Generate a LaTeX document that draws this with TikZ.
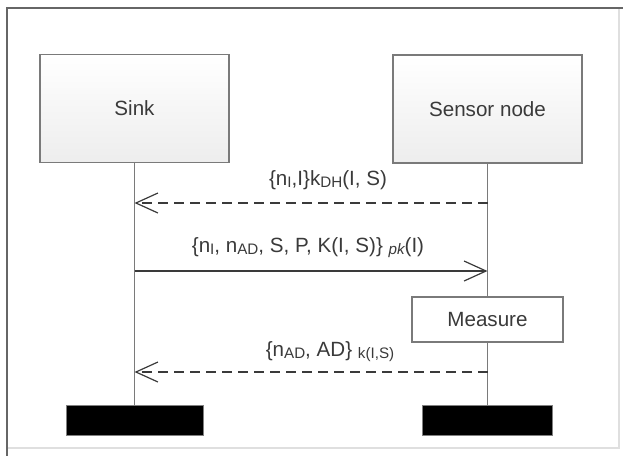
\documentclass[tikz,border=0pt]{standalone}
\usepackage{fontspec}
\setmainfont{Liberation Sans}
\usepackage{xcolor}
\usetikzlibrary{arrows.meta}

\definecolor{txtgray}{HTML}{3A3A3A}
\definecolor{linegray}{HTML}{7A7A7A}
\newcommand{\lowtxt}[1]{\raisebox{-0.2ex}{\fontsize{7.6}{9}\selectfont #1}}

\begin{document}
\begin{tikzpicture}[x=0.5pt,y=-0.5pt,
  font=\fontsize{10.3}{12}\selectfont,text=txtgray,
  actor/.style={draw=linegray,line width=0.6pt,top color=white,bottom color=gray!14,minimum width=94.5pt,minimum height=54pt},
  taskbox/.style={draw=linegray,line width=0.6pt,fill=white,minimum width=75.5pt,minimum height=22.5pt},
  endbar/.style={fill=black,draw=gray,line width=0.3pt,minimum height=15pt},
  lifeline/.style={linegray,line width=0.6pt},
  msg/.style={txtgray,line width=0.6pt,-{Straight Barb[length=11pt,width=10pt,line width=0.6pt]}},
  reply/.style={msg,dash pattern=on 5pt off 3pt}]
\useasboundingbox (0,0) rectangle (623,456);
% frame
\draw[gray!25,line width=0.6pt] (7,8) rectangle (619,448);
\draw[gray!80!black,line width=1pt] (7,456) -- (7,8) -- (623,8);
% actors
\node[actor] (sink) at (134.5,108.5) {Sink};
\node[actor] (sensor) at (487.5,109) {Sensor node};
\node[taskbox] (measure) at (487.5,319.5) {Measure};
\node[endbar,minimum width=68.5pt] (sinkend) at (134.5,420) {};
\node[endbar,minimum width=65pt] (sensorend) at (487.5,420) {};
% lifelines
\draw[lifeline] (sink.south) -- (sinkend.north);
\draw[lifeline] (sensor.south) -- (measure.north);
\draw[lifeline] (measure.south) -- (sensorend.north);
% messages
\coordinate (a1) at (487.5,203);
\coordinate (b1) at (134.5,203);
\coordinate (a2) at (134.5,271);
\coordinate (b2) at (487.5,271);
\coordinate (a3) at (487.5,372);
\coordinate (b3) at (134.5,372);
\draw[reply] (a1) -- (b1);
\draw[msg] (a2) -- (b2);
\draw[reply] (a3) -- (b3);
\node (lab1) at (328,180) {\{n\lowtxt{I},I\}k\lowtxt{DH}(I, S)};
\node (lab2) at (308,248) {\{n\lowtxt{I}, n\lowtxt{AD}, S, P, K(I, S)\} \lowtxt{\itshape pk}(I)};
\node (lab3) at (330,352) {\{n\lowtxt{AD}, AD\} \lowtxt{k(I,S)}};
\end{tikzpicture}
\end{document}
